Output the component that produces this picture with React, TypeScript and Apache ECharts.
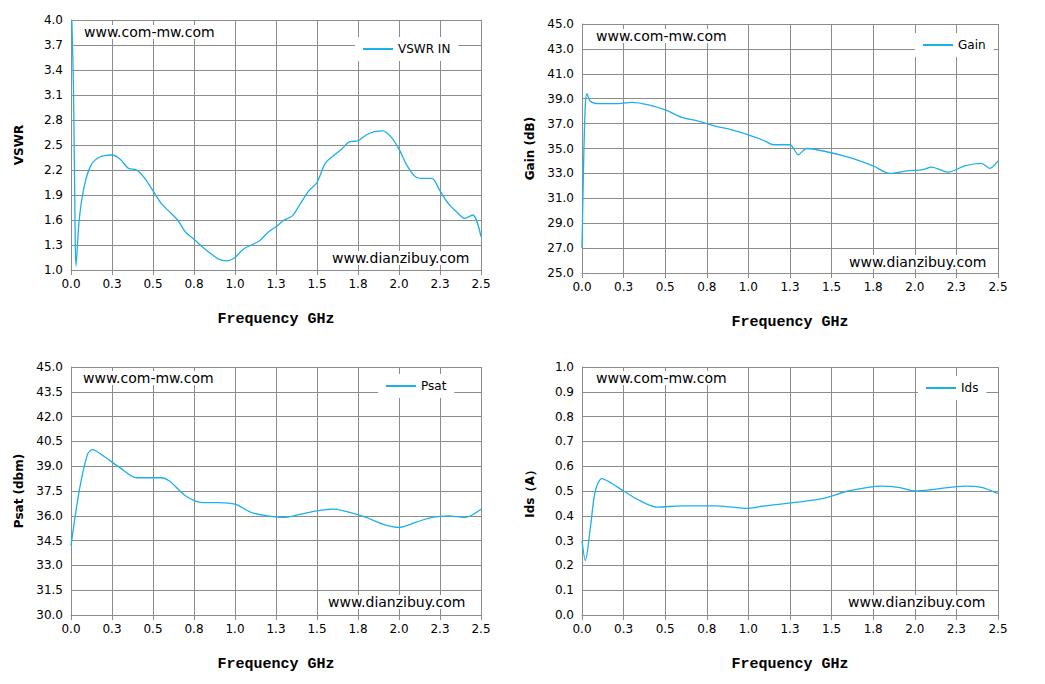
import { useEffect, useRef } from "react";
import * as echarts from "echarts";

const vswrData: [number, number][] = [
  [0.005, 4.0], [0.015, 3.2], [0.025, 1.5], [0.03, 1.05], [0.05, 1.6], [0.08, 2.0], [0.12, 2.25],
  [0.17, 2.35], [0.25, 2.38], [0.3, 2.33], [0.35, 2.22], [0.4, 2.2], [0.45, 2.1], [0.5, 1.95],
  [0.55, 1.8], [0.6, 1.7], [0.65, 1.6], [0.7, 1.45], [0.75, 1.37], [0.8, 1.28], [0.85, 1.2],
  [0.9, 1.13], [0.95, 1.11], [1.0, 1.15], [1.05, 1.25], [1.1, 1.3], [1.15, 1.35], [1.2, 1.45],
  [1.25, 1.52], [1.3, 1.6], [1.35, 1.65], [1.4, 1.8], [1.45, 1.95], [1.5, 2.05], [1.55, 2.28],
  [1.6, 2.37], [1.65, 2.45], [1.7, 2.54], [1.75, 2.55], [1.8, 2.62], [1.85, 2.66], [1.9, 2.67],
  [1.95, 2.6], [2.0, 2.45], [2.05, 2.25], [2.1, 2.12], [2.15, 2.1], [2.2, 2.1], [2.25, 1.95],
  [2.3, 1.8], [2.35, 1.7], [2.4, 1.62], [2.45, 1.66], [2.5, 1.4],
];
const gainData: [number, number][] = [
  [0, 27], [0.01, 34], [0.02, 38.5], [0.03, 39.4], [0.05, 38.8], [0.1, 38.6], [0.2, 38.6],
  [0.3, 38.7], [0.4, 38.5], [0.5, 38.1], [0.6, 37.5], [0.7, 37.2], [0.8, 36.8], [0.9, 36.5],
  [1.0, 36.1], [1.1, 35.6], [1.15, 35.3], [1.25, 35.3], [1.3, 34.5], [1.35, 35.0], [1.45, 34.8],
  [1.6, 34.3], [1.75, 33.6], [1.85, 33.0], [1.95, 33.2], [2.05, 33.3], [2.1, 33.5], [2.2, 33.1],
  [2.3, 33.6], [2.4, 33.8], [2.45, 33.4], [2.5, 34.0],
];
const psatData: [number, number][] = [
  [0, 34.2], [0.05, 37.5], [0.1, 39.7], [0.13, 40.0], [0.2, 39.6], [0.3, 38.9], [0.4, 38.3],
  [0.5, 38.3], [0.55, 38.3], [0.6, 38.1], [0.7, 37.2], [0.8, 36.8], [0.9, 36.8], [1.0, 36.7],
  [1.1, 36.2], [1.2, 36.0], [1.3, 35.9], [1.4, 36.1], [1.5, 36.3], [1.6, 36.4], [1.7, 36.2],
  [1.8, 35.9], [1.9, 35.5], [2.0, 35.3], [2.1, 35.6], [2.2, 35.9], [2.3, 36.0], [2.4, 35.9],
  [2.5, 36.4],
];
const idsData: [number, number][] = [
  [0, 0.3], [0.02, 0.22], [0.05, 0.35], [0.08, 0.5], [0.12, 0.55], [0.18, 0.53], [0.25, 0.5],
  [0.35, 0.46], [0.45, 0.435], [0.6, 0.44], [0.8, 0.44], [1.0, 0.43], [1.1, 0.44], [1.3, 0.455],
  [1.45, 0.47], [1.6, 0.5], [1.8, 0.52], [1.9, 0.515], [2.0, 0.5], [2.1, 0.505], [2.3, 0.52],
  [2.4, 0.515], [2.5, 0.49],
];

const panels = [
  { name: "VSWR IN", yName: "VSWR", min: 1, max: 4, step: 0.3, data: vswrData, grid: { left: 71, top: 20, width: 410, height: 250 }, legend: { left: 355, top: 37 } },
  { name: "Gain", yName: "Gain (dB)", min: 25, max: 45, step: 2, data: gainData, grid: { left: 582, top: 24, width: 416, height: 249 }, legend: { left: 915, top: 33 } },
  { name: "Psat", yName: "Psat (dbm)", min: 30, max: 45, step: 1.5, data: psatData, grid: { left: 71, top: 367, width: 410, height: 248 }, legend: { left: 378, top: 374 } },
  { name: "Ids", yName: "Ids（A）", min: 0, max: 1, step: 0.1, data: idsData, grid: { left: 582, top: 367, width: 416, height: 248 }, legend: { left: 918, top: 376 } },
];

const lineColor = "#1cb0e8";
const gridColor = "#8c8c8c";

export default function App() {
  const chartRef = useRef<HTMLDivElement>(null);

  useEffect(() => {
    if (!chartRef.current) return;
    const chart = echarts.init(chartRef.current, undefined, { renderer: "svg" });

    const wm = (text: string, x: number, y: number) => ({
      type: "text",
      left: x,
      top: y,
      z: 10,
      style: { text, fill: "#000", font: "14px 'DejaVu Sans'", backgroundColor: "#fff" },
    });

    const option: echarts.EChartsOption = {
      animation: false,
      backgroundColor: "#fff",
      grid: panels.map((p) => ({ ...p.grid })),
      xAxis: panels.map((_, i) => ({
        type: "value",
        gridIndex: i,
        min: 0,
        max: 2.5,
        interval: 0.25,
        name: "Frequency GHz",
        nameLocation: "middle",
        nameGap: 42,
        nameTextStyle: { fontFamily: "'Liberation Mono'", fontWeight: "bold", fontSize: 15, color: "#000" },
        axisLine: { lineStyle: { color: gridColor } },
        axisTick: { show: true, lineStyle: { color: gridColor } },
        axisLabel: { color: "#000", fontSize: 12, fontFamily: "'DejaVu Sans'", formatter: (v: number) => v.toFixed(1) },
        splitLine: { show: true, lineStyle: { color: gridColor } },
      })),
      yAxis: panels.map((p, i) => ({
        type: "value",
        gridIndex: i,
        min: p.min,
        max: p.max,
        interval: p.step,
        name: p.yName,
        nameLocation: "middle",
        nameGap: 46,
        nameTextStyle: { fontFamily: "'DejaVu Sans'", fontWeight: "bold", fontSize: 12, color: "#000" },
        axisLine: { show: true, lineStyle: { color: gridColor } },
        axisTick: { show: false },
        axisLabel: { color: "#000", fontSize: 12, fontFamily: "'DejaVu Sans'", formatter: (v: number) => v.toFixed(1) },
        splitLine: { show: true, lineStyle: { color: gridColor } },
      })),
      legend: panels.map((p) => ({
        data: [p.name],
        left: p.legend.left,
        top: p.legend.top,
        backgroundColor: "#fff",
        padding: [6, 8],
        itemWidth: 30,
        itemHeight: 2,
        icon: "rect",
        textStyle: { fontFamily: "'DejaVu Sans'", fontSize: 12, color: "#000" },
      })),
      series: panels.map((p, i) => ({
        name: p.name,
        type: "line",
        xAxisIndex: i,
        yAxisIndex: i,
        data: p.data,
        smooth: 0.3,
        showSymbol: false,
        itemStyle: { color: lineColor },
        lineStyle: { color: lineColor, width: 1.3 },
      })),
      graphic: [
        wm("www.com-mw.com", 84, 25),
        wm("www.dianzibuy.com", 332, 251),
        wm("www.com-mw.com", 596, 29),
        wm("www.dianzibuy.com", 849, 255),
        wm("www.com-mw.com", 83, 371),
        wm("www.dianzibuy.com", 328, 595),
        wm("www.com-mw.com", 596, 371),
        wm("www.dianzibuy.com", 848, 595),
      ] as any,
    };

    chart.setOption(option);
    return () => chart.dispose();
  }, []);

  return (
    <div
      ref={chartRef}
      style={{ position: "fixed", left: 0, top: 0, width: "1045px", height: "684px" }}
    />
  );
}
